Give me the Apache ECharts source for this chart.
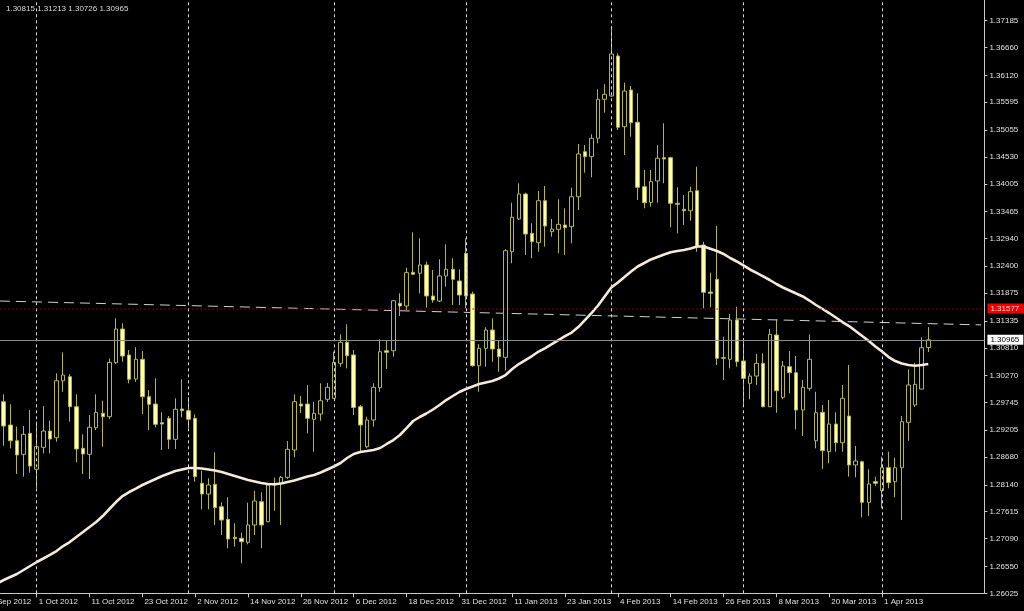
<!DOCTYPE html>
<html><head><meta charset="utf-8">
<script src="https://cdn.jsdelivr.net/npm/echarts@6/dist/echarts.min.js"></script>
<style>html,body{margin:0;padding:0;background:#000;}#c{width:1024px;height:611px;}</style>
</head><body><div id="c"></div>
<script>
// Trading days (category axis); last 8 are empty future slots on the right
const dates = [
'19 Sep 2012','20 Sep 2012','21 Sep 2012','24 Sep 2012','25 Sep 2012','26 Sep 2012','27 Sep 2012','28 Sep 2012',
'1 Oct 2012','2 Oct 2012','3 Oct 2012','4 Oct 2012','5 Oct 2012','8 Oct 2012','9 Oct 2012','10 Oct 2012','11 Oct 2012','12 Oct 2012','15 Oct 2012','16 Oct 2012','17 Oct 2012','18 Oct 2012','19 Oct 2012','22 Oct 2012','23 Oct 2012','24 Oct 2012','25 Oct 2012','26 Oct 2012','29 Oct 2012','30 Oct 2012','31 Oct 2012',
'1 Nov 2012','2 Nov 2012','5 Nov 2012','6 Nov 2012','7 Nov 2012','8 Nov 2012','9 Nov 2012','12 Nov 2012','13 Nov 2012','14 Nov 2012','15 Nov 2012','16 Nov 2012','19 Nov 2012','20 Nov 2012','21 Nov 2012','22 Nov 2012','23 Nov 2012','26 Nov 2012','27 Nov 2012','28 Nov 2012','29 Nov 2012','30 Nov 2012',
'3 Dec 2012','4 Dec 2012','5 Dec 2012','6 Dec 2012','7 Dec 2012','10 Dec 2012','11 Dec 2012','12 Dec 2012','13 Dec 2012','14 Dec 2012','17 Dec 2012','18 Dec 2012','19 Dec 2012','20 Dec 2012','21 Dec 2012','24 Dec 2012','26 Dec 2012','27 Dec 2012','28 Dec 2012','31 Dec 2012',
'2 Jan 2013','3 Jan 2013','4 Jan 2013','7 Jan 2013','8 Jan 2013','9 Jan 2013','10 Jan 2013','11 Jan 2013','14 Jan 2013','15 Jan 2013','16 Jan 2013','17 Jan 2013','18 Jan 2013','21 Jan 2013','22 Jan 2013','23 Jan 2013','24 Jan 2013','25 Jan 2013','28 Jan 2013','29 Jan 2013','30 Jan 2013','31 Jan 2013',
'1 Feb 2013','4 Feb 2013','5 Feb 2013','6 Feb 2013','7 Feb 2013','8 Feb 2013','11 Feb 2013','12 Feb 2013','13 Feb 2013','14 Feb 2013','15 Feb 2013','18 Feb 2013','19 Feb 2013','20 Feb 2013','21 Feb 2013','22 Feb 2013','25 Feb 2013','26 Feb 2013','27 Feb 2013','28 Feb 2013',
'1 Mar 2013','4 Mar 2013','5 Mar 2013','6 Mar 2013','7 Mar 2013','8 Mar 2013','11 Mar 2013','12 Mar 2013','13 Mar 2013','14 Mar 2013','15 Mar 2013','18 Mar 2013','19 Mar 2013','20 Mar 2013','21 Mar 2013','22 Mar 2013','25 Mar 2013','26 Mar 2013','27 Mar 2013','28 Mar 2013','29 Mar 2013',
'1 Apr 2013','2 Apr 2013','3 Apr 2013','4 Apr 2013','5 Apr 2013','8 Apr 2013','9 Apr 2013','10 Apr 2013',
'11 Apr 2013','12 Apr 2013','15 Apr 2013','16 Apr 2013','17 Apr 2013','18 Apr 2013','19 Apr 2013','22 Apr 2013'
];

const opens = [null,null,null,
1.29759,1.29305,1.28998,1.28734,1.29143,1.28442,1.28870,1.29188,1.29057,1.30166,
1.30246,1.29661,1.28850,1.28734,1.29252,1.29533,1.29467,1.30518,1.31176,1.30669,
1.30201,1.30585,1.29856,1.29714,1.29350,1.29435,1.29026,1.29617,1.29583,1.29435,
1.28169,1.27960,1.28149,1.27712,1.27467,1.27116,1.27097,1.27019,1.27356,1.27810,
1.27420,1.28149,1.28169,1.28285,1.28818,1.29714,1.29714,1.29416,1.29519,1.29806,
1.29825,1.30507,1.30917,1.30669,1.29661,1.28882,1.29402,1.30032,1.30752,1.30752,
1.31677,1.31624,1.32281,1.32262,1.32424,1.31819,1.31722,1.32209,1.32340,1.32112,
1.32652,1.31858,1.30460,1.30799,1.31156,1.30786,1.30624,1.32683,1.33320,1.33807,
1.33041,1.32859,1.33676,1.33073,1.33118,1.33203,1.33170,1.33754,1.34632,1.34534,
1.34893,1.35653,1.35717,1.36497,1.35119,1.35834,1.35205,1.33949,1.33645,1.34061,
1.34515,1.34515,1.33626,1.33509,1.33481,1.33871,1.32813,1.31897,1.32145,1.30604,
1.30585,1.31351,1.30552,1.30117,1.30259,1.30507,1.29661,1.31059,1.29845,1.30441,
1.30324,1.29597,1.30019,1.28998,1.29552,1.28785,1.29324,1.28959,1.29480,1.28526,
1.28590,1.27798,1.28201,1.28025,1.28473,1.28201,1.28473,1.29357,1.29695,1.30006,
1.30815];
const highs = [null,null,null,
1.29903,1.29708,1.29272,1.29285,1.29597,1.29369,1.29675,1.29389,1.30312,1.30721,
1.30298,1.29903,1.29123,1.29500,1.29903,1.29778,1.30604,1.31384,1.31287,1.30766,
1.30820,1.30747,1.29986,1.30214,1.29552,1.29480,1.29825,1.30195,1.29850,1.29513,
1.28415,1.28267,1.28773,1.27798,1.27897,1.27389,1.27206,1.27790,1.28025,1.27993,
1.28169,1.28279,1.28311,1.28993,1.29903,1.29869,1.30084,1.29759,1.30117,1.30123,
1.30733,1.31072,1.31267,1.30766,1.29695,1.29467,1.30117,1.30975,1.30961,1.31741,
1.31872,1.32371,1.33060,1.32943,1.32488,1.32326,1.32535,1.32827,1.32554,1.32340,
1.32943,1.31903,1.30883,1.31209,1.31384,1.30961,1.32730,1.33637,1.34016,1.33833,
1.33236,1.33866,1.33963,1.33320,1.33704,1.33528,1.33930,1.34781,1.34762,1.34971,
1.35848,1.35946,1.37081,1.36549,1.35976,1.35912,1.35770,1.34275,1.34275,1.34762,
1.35185,1.34534,1.33938,1.33787,1.33949,1.34340,1.32878,1.32274,1.33183,1.31026,
1.31468,1.31610,1.31000,1.30312,1.30688,1.30702,1.31176,1.31365,1.30552,1.30747,
1.30649,1.30181,1.31072,1.29953,1.29695,1.29792,1.29552,1.30084,1.30474,1.28896,
1.28610,1.28442,1.28298,1.28687,1.28785,1.28667,1.29480,1.30390,1.30518,1.31014,
1.31213];
const lows = [null,null,null,
1.28901,1.28850,1.28350,1.28298,1.28376,1.28077,1.28754,1.28754,1.28979,1.29953,
1.29369,1.28578,1.28350,1.28253,1.29207,1.28882,1.29422,1.30493,1.30538,1.30117,
1.30148,1.29519,1.29207,1.29260,1.28818,1.28837,1.28837,1.29455,1.29246,1.28201,
1.27662,1.27662,1.27356,1.27161,1.26902,1.26934,1.26610,1.26980,1.27161,1.26902,
1.27408,1.27634,1.27356,1.28253,1.28676,1.29539,1.29143,1.28785,1.29389,1.29753,
1.29811,1.30441,1.30409,1.29500,1.28785,1.28850,1.29272,1.29953,1.30396,1.30635,
1.31429,1.31546,1.32229,1.31872,1.31591,1.31688,1.31702,1.32001,1.31644,1.31644,
1.31579,1.30441,1.29953,1.30441,1.30538,1.30343,1.30363,1.32457,1.33300,1.32619,
1.32554,1.32683,1.32780,1.32975,1.32652,1.32619,1.32846,1.33495,1.34223,1.34133,
1.34795,1.35392,1.35700,1.35054,1.34567,1.34924,1.33690,1.33528,1.33559,1.33637,
1.34016,1.33158,1.33041,1.33203,1.33288,1.32683,1.31579,1.31599,1.30474,1.30181,
1.30409,1.30441,1.29661,1.29806,1.30084,1.29650,1.29656,1.29544,1.29806,1.29922,
1.29221,1.29091,1.29973,1.28850,1.28448,1.28559,1.28785,1.28785,1.28298,1.28286,
1.27506,1.27531,1.28117,1.27681,1.28071,1.27896,1.27453,1.28998,1.29656,1.30000,
1.30726];
const closes = [null,null,null,
1.29285,1.28998,1.28721,1.29123,1.28506,1.28882,1.29188,1.29032,1.30168,1.30279,
1.29661,1.28837,1.28740,1.29260,1.29552,1.29467,1.30526,1.31176,1.30649,1.30195,
1.30585,1.29856,1.29708,1.29318,1.29324,1.29026,1.29611,1.29583,1.29416,1.28298,
1.27960,1.28136,1.27693,1.27453,1.27083,1.27089,1.27030,1.27356,1.27824,1.27356,
1.28136,1.28136,1.28285,1.28831,1.29759,1.29675,1.29435,1.29533,1.29778,1.30039,
1.30526,1.30917,1.30655,1.29646,1.29305,1.29402,1.30039,1.30733,1.30721,1.31727,
1.31624,1.32274,1.32242,1.32424,1.31819,1.31741,1.32209,1.32340,1.32145,1.31838,
1.31819,1.30460,1.30799,1.31156,1.30786,1.30635,1.32702,1.33353,1.33807,1.33027,
1.32878,1.33676,1.33183,1.33124,1.33216,1.33151,1.33754,1.34587,1.34534,1.34893,
1.35653,1.35750,1.36536,1.35107,1.35814,1.35197,1.33938,1.33637,1.34047,1.34503,
1.34490,1.33626,1.33606,1.33481,1.33852,1.32794,1.31891,1.31872,1.30604,1.30620,
1.31351,1.30538,1.30214,1.30259,1.30507,1.29661,1.31072,1.29973,1.30455,1.30324,
1.29597,1.30039,1.30585,1.29544,1.28804,1.29324,1.28959,1.29825,1.28526,1.28604,
1.27798,1.28155,1.28169,1.28473,1.28181,1.28473,1.29369,1.30084,1.30097,1.30811,
1.30965];

// Moving average, one value per bar
const maValues = [
1.26089,1.26148,1.26216,1.26284,1.26343,1.26401,1.26479,1.26557,1.26635,1.26703,
1.26772,1.26849,1.26946,1.27024,1.27122,1.27219,1.27317,1.27414,1.27531,1.27668,
1.27804,1.27921,1.27999,1.28067,1.28136,1.28194,1.28253,1.28311,1.28360,1.28409,
1.28438,1.28467,1.28467,1.28457,1.28438,1.28418,1.28389,1.28350,1.28311,1.28272,
1.28233,1.28204,1.28175,1.28155,1.28149,1.28165,1.28194,1.28223,1.28262,1.28301,
1.28331,1.28379,1.28438,1.28496,1.28564,1.28662,1.28740,1.28779,1.28798,1.28818,
1.28857,1.28935,1.29012,1.29110,1.29246,1.29383,1.29461,1.29529,1.29607,1.29695,
1.29792,1.29870,1.29948,1.30006,1.30055,1.30104,1.30133,1.30162,1.30211,1.30279,
1.30396,1.30493,1.30571,1.30649,1.30737,1.30805,1.30883,1.30961,1.31039,1.31107,
1.31214,1.31351,1.31487,1.31634,1.31810,1.31984,1.32082,1.32190,1.32297,1.32394,
1.32462,1.32531,1.32580,1.32628,1.32671,1.32697,1.32716,1.32745,1.32784,1.32784,
1.32741,1.32697,1.32638,1.32560,1.32492,1.32414,1.32336,1.32268,1.32200,1.32131,
1.32053,1.31985,1.31927,1.31868,1.31810,1.31731,1.31644,1.31566,1.31487,1.31400,
1.31312,1.31234,1.31137,1.31039,1.30942,1.30834,1.30737,1.30630,1.30552,1.30503,
1.30474,1.30460,1.30474,1.30493];

// Price scale labels (right axis)
const yTickValues = [1.26025,1.26550,1.27090,1.27615,1.28140,1.28680,1.29205,1.29745,1.30270,1.30810,1.31335,
  1.31875,1.32400,1.32940,1.33465,1.34005,1.34530,1.35055,1.35595,1.36120,1.36660,1.37185];
const yMin = 1.26025, yMax = 1.37588;

// Month separators, trend line, horizontal levels
const monthStarts = ['1 Oct 2012','1 Nov 2012','3 Dec 2012','2 Jan 2013','1 Feb 2013','1 Mar 2013','1 Apr 2013'];
const trendLine = [['19 Sep 2012', 1.31729], ['22 Apr 2013', 1.31256]];
const levelLine = 1.31577;
const bidLine = 1.30965;

const FONT = 'Liberation Sans, Arial, sans-serif';
const nReal = opens.length;
const candleData = dates.map((d, i) => (i < nReal && opens[i] != null) ? [opens[i], closes[i], lows[i], highs[i]] : '-');
const maData = dates.map((d, i) => i < maValues.length ? maValues[i] : '-');
const showIdx = (idx) => idx < nReal && idx % 8 === 0;
const last = nReal - 1;
const header = [opens[last], highs[last], lows[last], closes[last]].map(v => v.toFixed(5)).join(' ');

const chart = echarts.init(document.getElementById('c'), null, {renderer: 'canvas'});
chart.setOption({
  backgroundColor: '#000000',
  animation: false,
  title: {text: header, left: 1, top: 0,
    textStyle: {color: '#dcdcdc', fontSize: 8, fontWeight: 'normal', fontFamily: FONT}},
  grid: {left: -19.4, right: 39.6, top: 0, bottom: 17.7, containLabel: false, outerBoundsMode: 'none'},
  xAxis: {
    type: 'category', data: dates, boundaryGap: true,
    axisLine: {show: true, lineStyle: {color: '#c8c8c8', width: 1}},
    axisTick: {show: true, alignWithLabel: true, interval: (i) => showIdx(i), length: 4, lineStyle: {color: '#c8c8c8'}},
    axisLabel: {interval: (i) => showIdx(i), align: 'left', margin: 4, color: '#e0e0e0', fontSize: 8,
      fontFamily: FONT, padding: [0, 0, 0, 2]},
    splitLine: {show: false}
  },
  yAxis: {
    type: 'value', position: 'right', min: yMin, max: yMax, scale: true,
    axisLine: {show: true, lineStyle: {color: '#c8c8c8', width: 1}},
    axisTick: {show: true, length: 3, customValues: yTickValues, lineStyle: {color: '#c8c8c8'}},
    axisLabel: {customValues: yTickValues, formatter: (v) => v.toFixed(5), margin: 5, color: '#e0e0e0',
      fontSize: 8, fontFamily: FONT},
    splitLine: {show: false}
  },
  series: [
    {
      name: 'trend', type: 'line', data: trendLine, showSymbol: false, silent: true, z: 1,
      lineStyle: {color: '#d0d0d0', width: 1, type: [10, 6]}
    },
    {
      name: 'EURUSD', type: 'candlestick', data: candleData, barWidth: 4, z: 2,
      itemStyle: {color: '#000000', color0: '#ffffa8', borderColor: '#b2b25a', borderColor0: '#b2b25a', borderWidth: 1},
      markLine: {
        silent: true, symbol: 'none', animation: false, precision: 5,
        data: monthStarts.map(d => ({xAxis: d, lineStyle: {color: '#d8d8d8', type: [3, 3], width: 1}, label: {show: false}}))
          .concat([
            {yAxis: levelLine, lineStyle: {color: '#b00000', type: [1, 3], width: 1.5},
              label: {show: true, position: 'end', distance: 3, formatter: levelLine.toFixed(5), backgroundColor: '#ee0000',
                color: '#ffd8d8', fontSize: 8, fontFamily: FONT, padding: [1, 4, 1, 3]}},
            {yAxis: bidLine, lineStyle: {color: '#8c8c8c', type: 'solid', width: 1},
              label: {show: true, position: 'end', distance: 3, formatter: bidLine.toFixed(5), backgroundColor: '#ffffff',
                color: '#000000', fontSize: 8, fontFamily: FONT, padding: [1, 4, 1, 3]}}
          ])
      }
    },
    {
      name: 'MA', type: 'line', data: maData, showSymbol: false, silent: true, z: 3,
      lineStyle: {color: '#f3e9dd', width: 2.6}
    }
  ]
});
</script>
</body></html>
